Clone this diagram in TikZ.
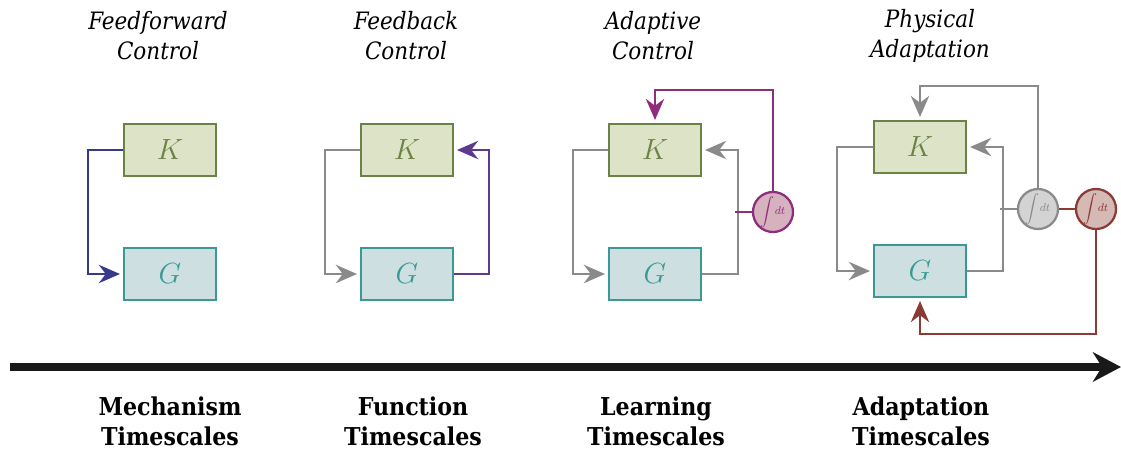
\documentclass[tikz,border=0pt]{standalone}
\usepackage{fontspec}
\setmainfont{DejaVu Serif Condensed}
\usetikzlibrary{arrows.meta}
\definecolor{kfill}{HTML}{DDE3C6}
\definecolor{kbord}{HTML}{6A8245}
\definecolor{gfill}{HTML}{CDDFE0}
\definecolor{gbord}{HTML}{3A9994}
\definecolor{ffblue}{HTML}{363A8C}
\definecolor{fbpurp}{HTML}{5E3A8C}
\definecolor{adpurp}{HTML}{8E2D7D}
\definecolor{adfill}{HTML}{D6B2BE}
\definecolor{lgray}{HTML}{8A8A8A}
\definecolor{cgray}{HTML}{D3D3D3}
\definecolor{phred}{HTML}{8B3A36}
\definecolor{phfill}{HTML}{D5B9B5}
\tikzstyle{ctrl}=[draw=kbord, fill=kfill, line width=1.7pt, minimum width=2.3cm, minimum height=1.3cm, text=kbord, font=\fontsize{20}{24}\selectfont]
\tikzstyle{plant}=[draw=gbord, fill=gfill, line width=1.7pt, minimum width=2.3cm, minimum height=1.3cm, text=gbord, font=\fontsize{20}{24}\selectfont]
\tikzstyle{integ}=[circle, line width=1.6pt, minimum size=1cm, inner sep=0pt, font=\fontsize{8.5}{10}\selectfont]
\tikzstyle{wire}=[line width=1.7pt, -{Stealth[length=15pt,width=13pt]}, shorten >=2pt]
\tikzstyle{title}=[align=center, inner sep=0pt, font=\fontsize{17}{21.3}\selectfont\itshape]
\tikzstyle{scale label}=[align=center, inner sep=0pt, font=\fontsize{17.5}{21.3}\selectfont\bfseries]
\newcommand{\intdt}[1]{$\displaystyle\int\!#1$}

\begin{document}
\begin{tikzpicture}[x=0.025cm,y=-0.025cm]
    \useasboundingbox (0,0) rectangle (1121,449);

    % Titles
    \node[title] (t1) at (158,36) {Feedforward\\Control};
    \node[title] (t2) at (406,36) {Feedback\\Control};
    \node[title] (t3) at (653,36) {Adaptive\\Control};
    \node[title] (t4) at (930,36) {Physical\\Adaptation};

    % Blocks
    \draw (170,150) node[ctrl] (k1) {$K$};
    \draw (170,274) node[plant] (g1) {$G$};
    \draw (407,150) node[ctrl] (k2) {$K$};
    \draw (407,274) node[plant] (g2) {$G$};
    \draw (655,150) node[ctrl] (k3) {$K$};
    \draw (655,274) node[plant] (g3) {$G$};
    \draw (920,147) node[ctrl] (k4) {$K$};
    \draw (920,271) node[plant] (g4) {$G$};

    % Integrators
    \draw (773,212) node[integ, draw=adpurp, fill=adfill, text=adpurp] (i3) {\intdt{dt}};
    \draw (1038,209) node[integ, draw=lgray, fill=cgray, text=lgray] (i4) {\intdt{dt}};
    \draw (1096,209) node[integ, draw=phred, fill=phfill, text=phred] (r4) {\intdt{dt}};

    % Feedforward
    \draw[wire, ffblue] (k1.west) -- ++(-35,0) |- (g1.west);

    % Feedback
    \draw[wire, lgray] (k2.west) -- ++(-35,0) |- (g2.west);
    \draw[wire, fbpurp] (g2.east) -- ++(35,0) |- (k2.east);

    % Adaptive
    \draw[wire, lgray] (k3.west) -- ++(-35,0) |- (g3.west);
    \draw[wire, lgray] (g3.east) -- ++(36,0) |- (k3.east);
    \draw[line width=1.7pt, adpurp] (i3.west) -- ++(-17,0);
    \draw[wire, adpurp] (i3.north) -- ++(0,-101) -| (k3.north);

    % Physical
    \draw[wire, lgray] (k4.west) -- ++(-36,0) |- (g4.west);
    \draw[wire, lgray] (g4.east) -- ++(36,0) |- (k4.east);
    \draw[line width=1.7pt, lgray] (i4.west) -- ++(-17,0);
    \draw[wire, lgray] (i4.north) -- ++(0,-102) -| (k4.north);
    \draw[line width=1.7pt, phred] (i4.east) -- (r4.west);
    \draw[wire, phred] (r4.south) -- ++(0,104) -| (g4.south);

    % Timeline
    \coordinate (tl0) at (10,367);
    \coordinate (tl1) at (1121,367);
    \draw[line width=5pt, black!90, -{Stealth[length=20pt,width=21pt]}] (tl0) -- (tl1);

    % Timescales
    \node[scale label] (s1) at (170,421) {Mechanism\\Timescales};
    \node[scale label] (s2) at (413,421) {Function\\Timescales};
    \node[scale label] (s3) at (656,421) {Learning\\Timescales};
    \node[scale label] (s4) at (921,421) {Adaptation\\Timescales};

\end{tikzpicture}
\end{document}
